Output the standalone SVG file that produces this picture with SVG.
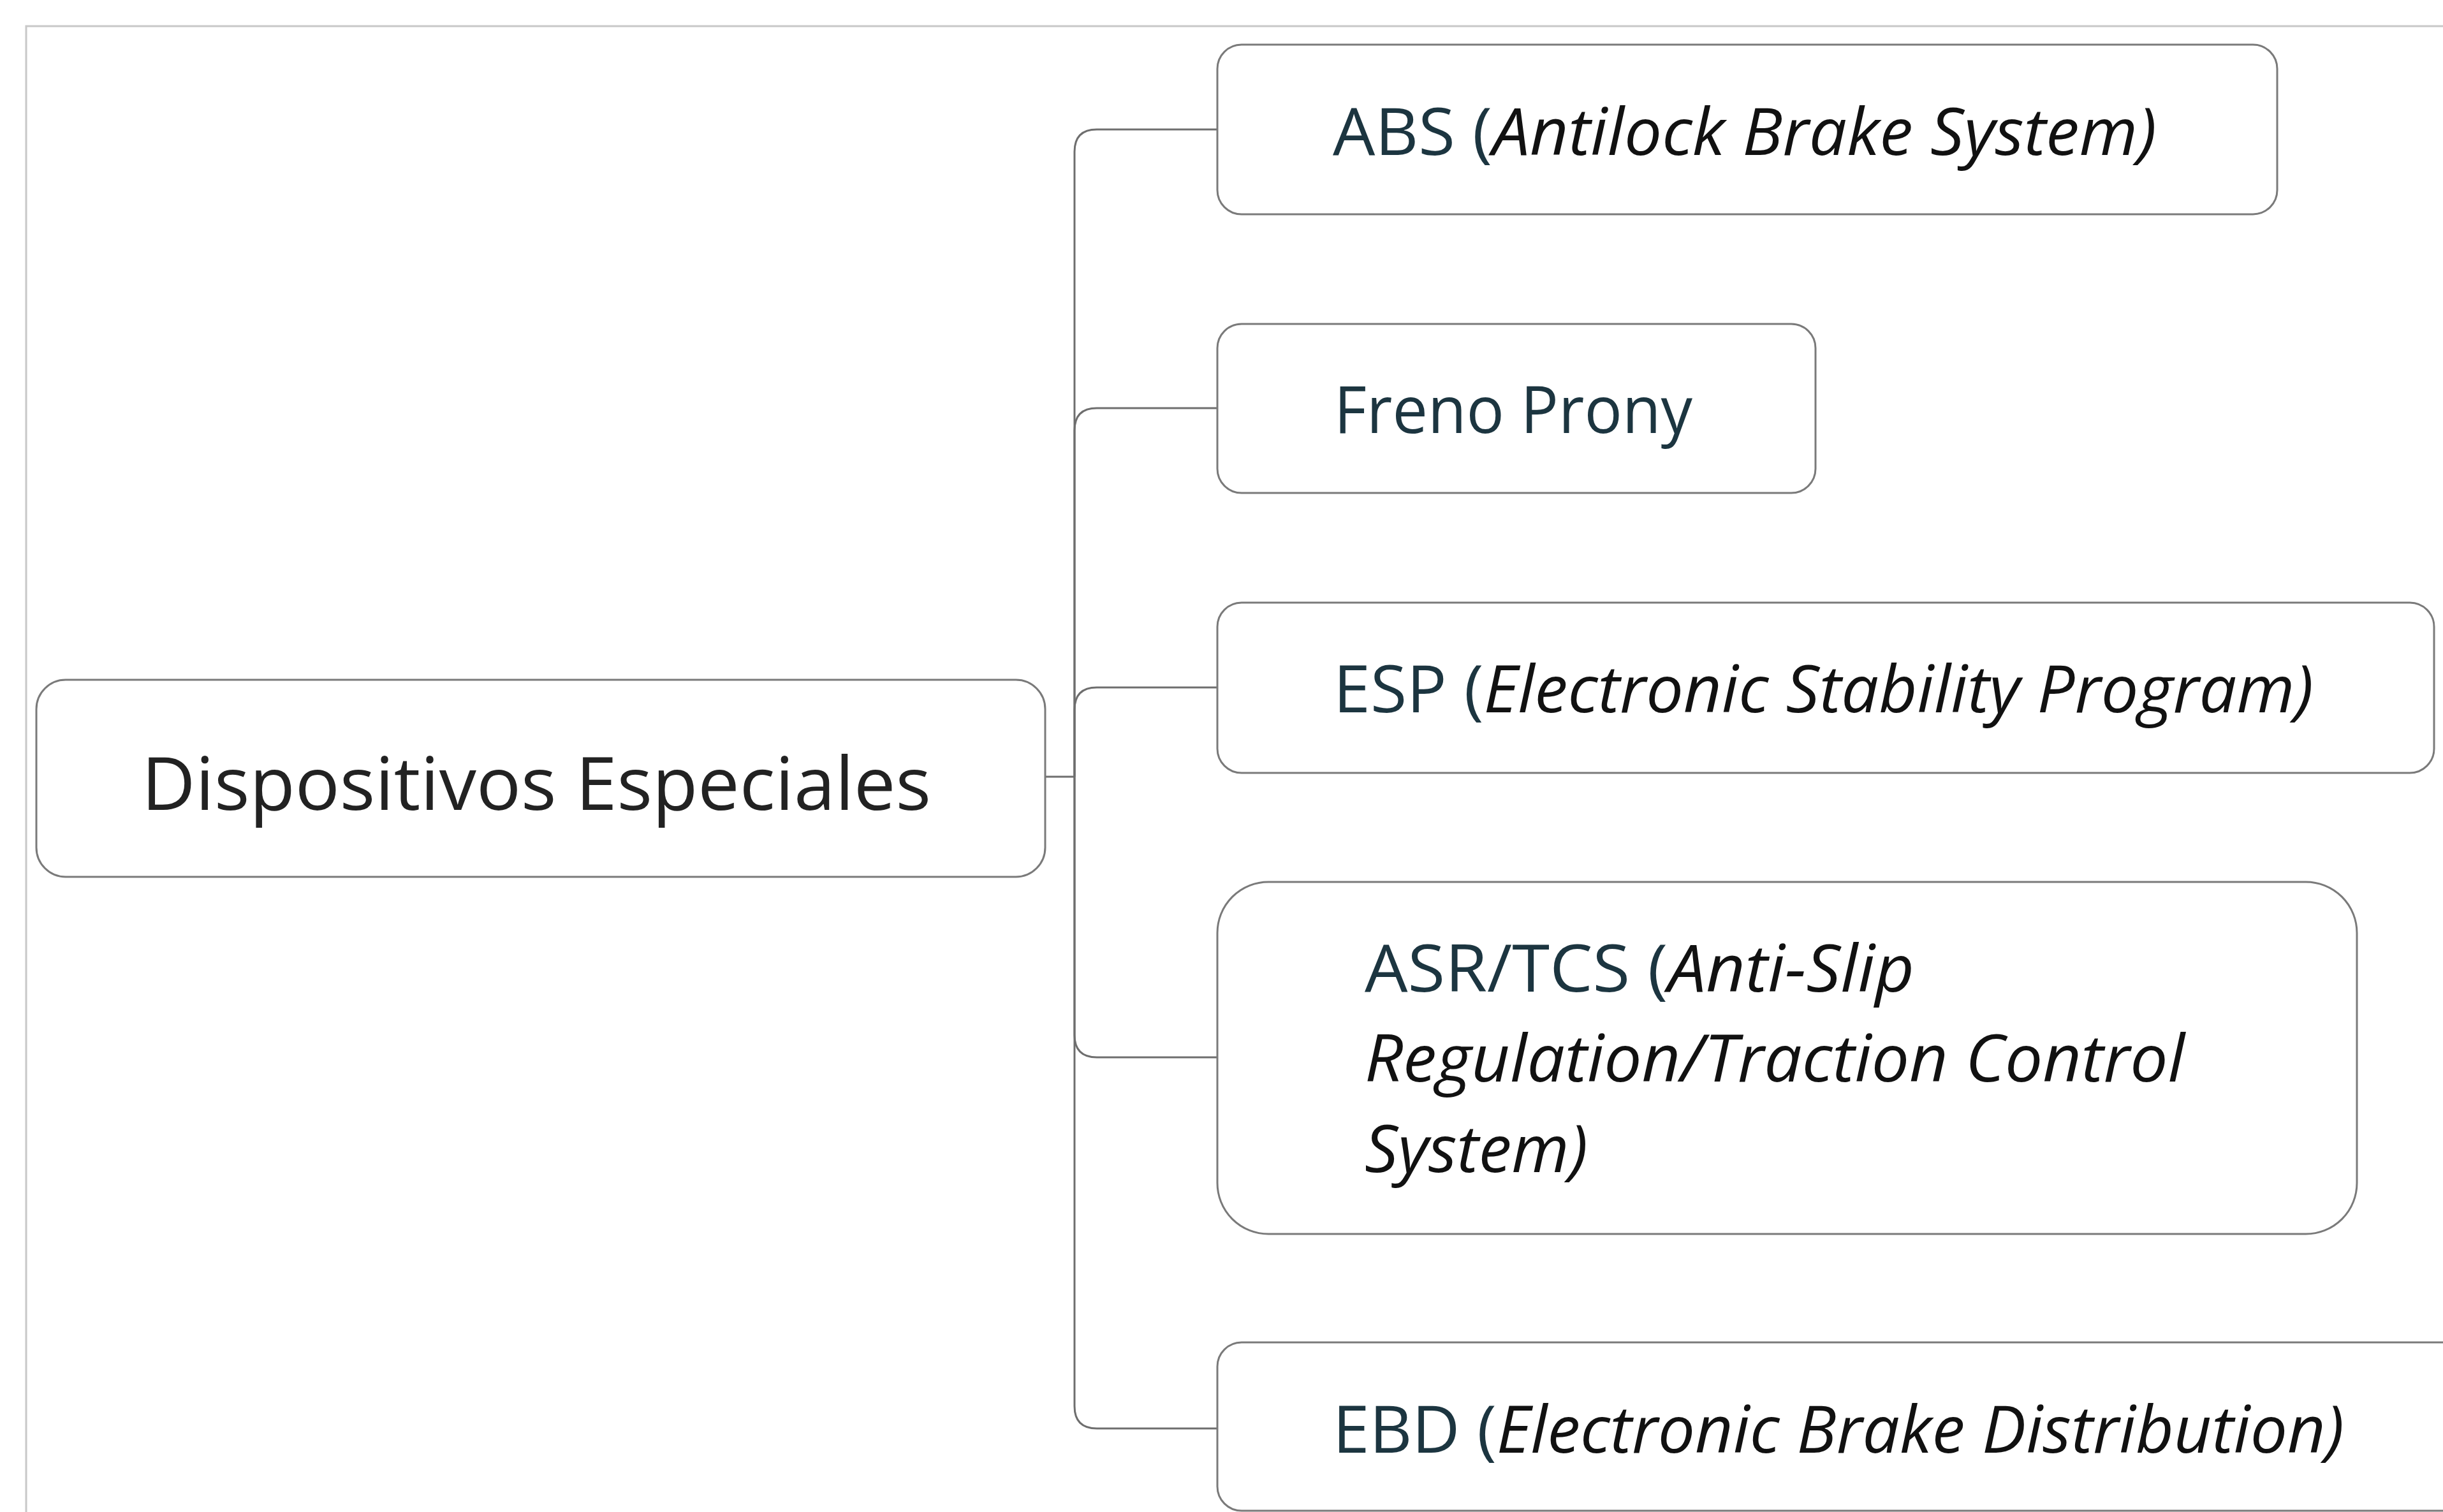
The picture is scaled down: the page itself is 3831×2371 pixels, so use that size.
<svg xmlns="http://www.w3.org/2000/svg" width="3831" height="2371" viewBox="0 0 3831 2371">
<style>
.frame{fill:none;stroke:#c8c8c8;stroke-width:3}
.box{fill:#ffffff;stroke:#7a7a7a;stroke-width:3}
.conn{fill:none;stroke:#6e6e6e;stroke-width:3}
.t{font-family:"Open Sans","Noto Sans",sans-serif;font-size:103px;fill:#1c3540}
.root{font-family:"Open Sans","Noto Sans",sans-serif;font-size:116px;fill:#222222}
.i{font-style:italic;fill:#111111}
</style>
<rect class="frame" x="41" y="41" width="3850" height="2400"/>
<g id="connectors">
<path class="conn" d="M1639,1218 H1685"/>
<path class="conn" d="M1685,1218 V238 Q1685,203 1720,203 H1909"/>
<path class="conn" d="M1685,1218 V675 Q1685,640 1720,640 H1909"/>
<path class="conn" d="M1685,1218 V1113 Q1685,1078 1720,1078 H1909"/>
<path class="conn" d="M1685,1218 V1623 Q1685,1658 1720,1658 H1909"/>
<path class="conn" d="M1685,1218 V2205 Q1685,2240 1720,2240 H1909"/>
</g>
<g id="node-root">
<rect class="box" x="57" y="1066" width="1582" height="309" rx="46" ry="46"/>
<text class="root" x="222" y="1270" textLength="1238" lengthAdjust="spacingAndGlyphs">Dispositivos Especiales</text>
</g>
<g id="node-abs">
<rect class="box" x="1909" y="70" width="1662" height="266" rx="38" ry="38"/>
<text class="t" x="2090" y="243" textLength="1292" lengthAdjust="spacingAndGlyphs">ABS (<tspan class="i">Antilock Brake System)</tspan></text>
</g>
<g id="node-freno">
<rect class="box" x="1909" y="508" width="938" height="265" rx="38" ry="38"/>
<text class="t" x="2092" y="679" textLength="562" lengthAdjust="spacingAndGlyphs">Freno Prony</text>
</g>
<g id="node-esp">
<rect class="box" x="1909" y="945" width="1908" height="267" rx="38" ry="38"/>
<text class="t" x="2091" y="1117" textLength="1537" lengthAdjust="spacingAndGlyphs">ESP (<tspan class="i">Electronic Stability Program)</tspan></text>
</g>
<g id="node-asr">
<rect class="box" x="1909" y="1383" width="1787" height="552" rx="80" ry="80"/>
<text class="t" x="2140" y="1555" textLength="862" lengthAdjust="spacingAndGlyphs">ASR/TCS (<tspan class="i">Anti-Slip</tspan></text>
<text class="t i" x="2140" y="1696" textLength="1286" lengthAdjust="spacingAndGlyphs">Regulation/Traction Control</text>
<text class="t i" x="2140" y="1838" textLength="350" lengthAdjust="spacingAndGlyphs">System)</text>
</g>
<g id="node-ebd">
<rect class="box" x="1909" y="2105" width="1960" height="264" rx="38" ry="38"/>
<text class="t" x="2090" y="2278" textLength="1586" lengthAdjust="spacingAndGlyphs">EBD (<tspan class="i">Electronic Brake Distribution)</tspan></text>
</g>
</svg>
